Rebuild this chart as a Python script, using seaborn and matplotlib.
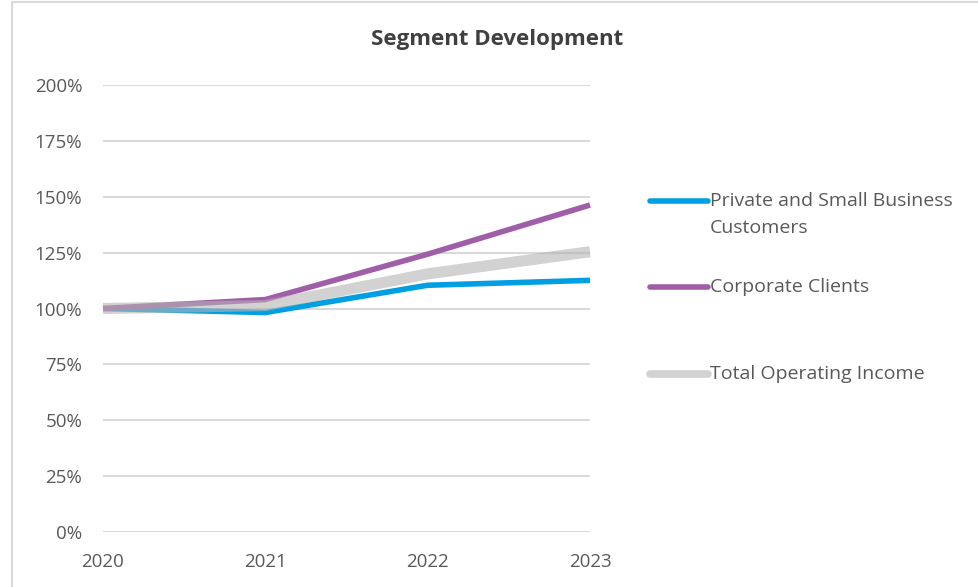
import matplotlib
matplotlib.use("Agg")
import matplotlib.pyplot as plt
from matplotlib.lines import Line2D
from matplotlib.patches import Rectangle
import seaborn as sns
import pandas as pd

# Segment income indexed to 2020 = 100 %
years = [2020, 2021, 2022, 2023]
private_small_business = [100.0, 98.2, 110.4, 112.6]
corporate_clients = [100.0, 104.0, 124.3, 146.3]
total_operating_income = [100.0, 101.3, 115.5, 125.4]

series_names = [
    "Private and Small Business\nCustomers",
    "Corporate Clients",
    "Total Operating Income",
]
series_values = [private_small_business, corporate_clients, total_operating_income]
y_ticks = [0, 25, 50, 75, 100, 125, 150, 175, 200]

colors = ["#009fe3", "#a15ea8", "#b4b4b4"]
widths = [4.0, 4.0, 8.0]
alphas = [1.0, 1.0, 0.6]

sns.set_theme(style="white")
plt.rcParams["font.family"] = ["Open Sans", "DejaVu Sans"]

fig = plt.figure(figsize=(9.79, 5.87), dpi=100)
ax = fig.add_axes([103 / 979, 55 / 587, 487 / 979, 447 / 587])

for name, vals, c, lw, a in zip(series_names, series_values, colors, widths, alphas):
    df = pd.DataFrame({"year": years, "value": vals})
    sns.lineplot(data=df, x="year", y="value", ax=ax, color=c, linewidth=lw,
                 alpha=a, legend=False, solid_capstyle="butt", clip_on=False)

ax.set_xlim(2020, 2023)
ax.set_ylim(0, 200)
ax.set_xticks(years)
ax.set_xticklabels([str(y) for y in years])
ax.set_yticks(y_ticks)
ax.set_yticklabels([f"{t}%" for t in y_ticks])
ax.yaxis.grid(True, color="#d9d9d9", linewidth=1.5, zorder=0)
ax.set_axisbelow(True)
ax.xaxis.grid(False)
for s in ax.spines.values():
    s.set_visible(False)
ax.tick_params(axis="y", length=0, pad=15, labelsize=13.5, labelcolor="#595959")
ax.tick_params(axis="x", length=0, pad=15, labelsize=13.5, labelcolor="#595959")
ax.set_xlabel("")
ax.set_ylabel("")

fig.text(497 / 979, 1 - 39 / 587, "Segment Development", ha="center", va="center",
         fontsize=16, fontweight="bold", color="#404040")

# Legend at the right, handles aligned with the first text line
legend_rows = [201, 287, 374]
for name, c, lw, a, yp in zip(series_names, colors, widths, alphas, legend_rows):
    y = 1 - yp / 587
    fig.add_artist(Line2D([650 / 979, 708 / 979], [y, y], transform=fig.transFigure,
                          color=c, linewidth=4.0 if lw < 5 else 5.5, alpha=a,
                          solid_capstyle="round"))
    for i, line in enumerate(name.split("\n")):
        fig.text(710 / 979, 1 - (yp + 27 * i) / 587, line, ha="left", va="center",
                 fontsize=14, color="#595959")

# Frame around the chart area
fig.add_artist(Rectangle((12 / 979, -0.1), 1.2, 1.1 - 1.5 / 587, transform=fig.transFigure,
                         fill=False, edgecolor="#d9d9d9", linewidth=1.5))

fig.savefig("out.png", dpi=100)
